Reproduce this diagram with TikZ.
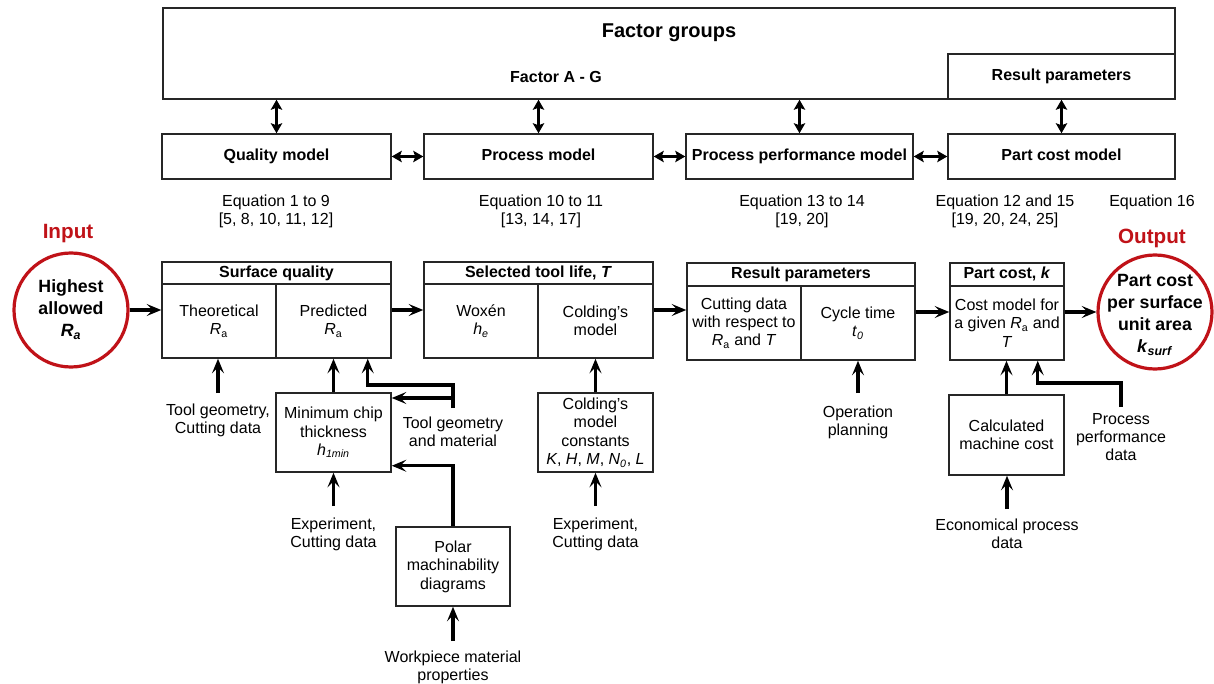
\documentclass[tikz,border=0pt]{standalone}
\usepackage{fontspec}
\setmainfont{Liberation Sans}
\usetikzlibrary{arrows.meta, positioning, calc}
\definecolor{ringred}{RGB}{192,18,24}
\newcommand{\Rsub}{\textit{R}\textsubscript{a}}
\newcommand{\fsz}[2]{\fontsize{#1}{#2}\selectfont}
\tikzset{
  %% box size given in picture units (px)
  sz/.style 2 args={minimum width=#1*0.75pt, minimum height=#2*0.75pt},
  %% plain framed box
  box/.style={rectangle, draw=black!85, line width=1.1pt, inner sep=0pt,
              align=center, font=\fsz{12}{13.8}},
  %% bold header box
  hbox/.style={box, font=\fsz{12}{14}\bfseries,
               text height=8.7pt, text depth=2.6pt},
  %% red input / output ring
  ring/.style={circle, draw=ringred, line width=2.4pt,
               minimum size=85.5pt, inner sep=0pt},
  ringtxt/.style={align=center, inner sep=0pt, font=\fsz{13.3}{16.5}\bfseries},
  ringlbl/.style={text=ringred, font=\fsz{15.5}{18}\bfseries},
  %% side labels
  lbl/.style={align=center, inner sep=1pt, anchor=north, font=\fsz{12}{13.5}},
  eqn/.style={align=center, inner sep=0pt, font=\fsz{12}{13.5}},
  %% arrows
  arr/.style={-{Stealth[length=11pt,width=9pt,inset=4.5pt]},
              draw=black, line width=2.5pt},
  darr/.style={{Stealth[length=7.5pt,width=8.5pt,inset=1.5pt]}-%
               {Stealth[length=7.5pt,width=8.5pt,inset=1.5pt]},
               draw=black, line width=2.1pt},
}

\begin{document}
\begin{tikzpicture}[x=0.75pt, y=-0.75pt]
  \useasboundingbox (0,0) rectangle (1214,684);

  %% Factor groups frame
  \node[box, sz={1012}{91}] (fg) at (669,53.5) {};
  \node[font=\fsz{15}{18}\bfseries] (fgt) at (669,33) {Factor groups};
  \node[font=\fsz{12}{14}\bfseries] (fag) at (556,77) {Factor A - G};
  \node[hbox, sz={227}{45}] (rpt) at (1061.5,76.5) {Result parameters};

  %% Model row
  \node[hbox, sz={229}{45}] (qm)  at (276.5,156.5)  {Quality model};
  \node[hbox, sz={229}{45}] (pm)  at (538.5,156.5)  {Process model};
  \node[hbox, sz={227}{45}] (ppm) at (799.5,156.5)  {Process performance model};
  \node[hbox, sz={227}{45}] (pcm) at (1061.5,156.5) {Part cost model};

  \draw[darr] (qm.north |- fg.south)  -- (qm.north);
  \draw[darr] (pm.north |- fg.south)  -- (pm.north);
  \draw[darr] (ppm.north |- fg.south) -- (ppm.north);
  \draw[darr] (rpt.south) -- (pcm.north);
  \draw[darr] (qm.east)  -- (pm.west);
  \draw[darr] (pm.east)  -- (ppm.west);
  \draw[darr] (ppm.east) -- (pcm.west);

  %% Equation references
  \node[eqn] (eq1) at (276,211)  {Equation 1 to 9\\{[5, 8, 10, 11, 12]}};
  \node[eqn] (eq2) at (541,211)  {Equation 10 to 11\\{[13, 14, 17]}};
  \node[eqn] (eq3) at (802,211)  {Equation 13 to 14\\{[19, 20]}};
  \node[eqn] (eq4) at (1005,211) {Equation 12 and 15\\{[19, 20, 24, 25]}};
  \node[eqn] (eq5) at (1152,202) {Equation 16};

  %% Input ring
  \node[ringlbl] (inlbl) at (68,234) {Input};
  \node[ring] (inring) at (71,310) {};
  \node[ringtxt] (intxt) at (inring)
       {Highest\\allowed\\\textit{R}\textsubscript{\textit{a}}};

  %% Surface quality
  \node[hbox, sz={229}{22}] (sqh) at (276.5,273) {Surface quality};
  \node[box, sz={114}{74}] (sq1) at (219,321)   {Theoretical\\\Rsub};
  \node[box, sz={115}{74}] (sq2) at (333.5,321) {Predicted\\\Rsub};

  %% Selected tool life
  \node[hbox, sz={229}{22}] (stlh) at (538.5,273) {Selected tool life, \textit{T}};
  \node[box, sz={114}{74}] (stl1) at (481,321)
       {Woxén\\\textit{h}\textsubscript{\textit{e}}};
  \node[box, sz={115}{74}] (stl2) at (595.5,321) {Colding's\\model};

  %% Result parameters
  \node[hbox, sz={228}{23}] (rph) at (801,274.5) {Result parameters};
  \node[box, sz={114}{74}] (rp1) at (744,323)
       {Cutting data\\with respect to\\\Rsub{} and \textit{T}};
  \node[box, sz={114}{74}] (rp2) at (858,323)
       {Cycle time\\\textit{t}\textsubscript{\textit{0}}};

  %% Part cost
  \node[hbox, sz={114}{23}] (pch) at (1007,274.5) {Part cost, \textit{k}};
  \node[box, sz={114}{74}] (pc1) at (1007,323)
       {Cost model for\\a given \Rsub{} and\\\textit{T}};

  %% Output ring
  \node[ringlbl] (outlbl) at (1152,238) {Output};
  \node[ring] (outring) at (1155,312) {};
  \node[ringtxt] (outtxt) at ($(outring)+(0,3)$)
       {Part cost\\per surface\\unit area\\\textit{k}\textsubscript{\textit{surf}}};

  %% Main flow
  \draw[arr] (inring.east) -- (inring.east -| sq1.west);
  \draw[arr] (sq2.east |- inring.east)  -- (stl1.west |- inring.east);
  \draw[arr] (stl2.east |- inring.east) -- (rp1.west |- inring.east);
  \draw[arr] (rp2.east |- outring.west) -- (pc1.west |- outring.west);
  \draw[arr] (pc1.east |- outring.west) -- (outring.west);

  %% Feeds into surface quality
  \node[lbl] (tgcd) at (218,402) {Tool geometry,\\Cutting data};
  \draw[arr] ($(tgcd.north)+(0,-9)$) -- (tgcd.north |- sq1.south);

  \node[box, sz={115}{79}] (mc) at (333.5,432.5)
       {Minimum chip\\thickness\\\textit{h}\textsubscript{\textit{1min}}};
  \draw[arr] (mc.north) -- (sq2.south);

  \node[lbl] (tgm) at (453,415) {Tool geometry\\and material};
  \coordinate (tg)  at ($(tgm.north)+(0,-7)$);
  \coordinate (tgb) at ($(tg)+(0,-10)$);
  \draw[arr] (tg) -- ($(tg)+(0,-23)$) -| ($(sq2.south east)+(-24,0)$);
  \draw[arr] (tgb) -- (tgb -| mc.east);

  \node[lbl] (excd1) at (333.5,516) {Experiment,\\Cutting data};
  \draw[arr] ($(excd1.north)+(0,-10)$) -- (excd1.north |- mc.south);

  \node[box, sz={114}{79}] (po) at (453,566.5)
       {Polar\\machinability\\diagrams};
  \draw[arr] (po.north) |- ($(mc.south east)+(0,-7)$);

  \node[lbl] (wmp) at (453,649) {Workpiece material\\properties};
  \draw[arr] ($(wmp.north)+(0,-8)$) -- (wmp.north |- po.south);

  %% Feeds into selected tool life
  \node[box, sz={115}{79}] (cc) at (595.5,432.5)
       {Colding's\\model\\constants\\\textit{K}, \textit{H}, \textit{M},
        \textit{N}\textsubscript{\textit{0}}, \textit{L}};
  \draw[arr] (cc.north) -- (stl2.south);

  \node[lbl] (excd2) at (595.5,516) {Experiment,\\Cutting data};
  \draw[arr] ($(excd2.north)+(0,-10)$) -- (excd2.north |- cc.south);

  %% Feeds into result parameters
  \node[lbl] (opl) at (858,404) {Operation\\planning};
  \draw[arr] ($(opl.north)+(0,-11)$) -- (opl.north |- rp2.south);

  %% Feeds into part cost
  \node[box, sz={115}{80}] (cm) at (1006.5,435)
       {Calculated\\machine cost};
  \draw[arr] (cm.north) -- (cm.north |- pc1.south);

  \node[lbl] (ppd) at (1121,412) {Process\\performance\\data};
  \coordinate (pp) at ($(ppd.north)+(0,-5)$);
  \draw[arr] (pp) -- ($(pp)+(0,-24)$) -| ($(pc1.south east)+(-27,0)$);

  \node[lbl] (epd) at (1007,517) {Economical process\\data};
  \draw[arr] ($(epd.north)+(0,-8)$) -- (epd.north |- cm.south);

\end{tikzpicture}
\end{document}
